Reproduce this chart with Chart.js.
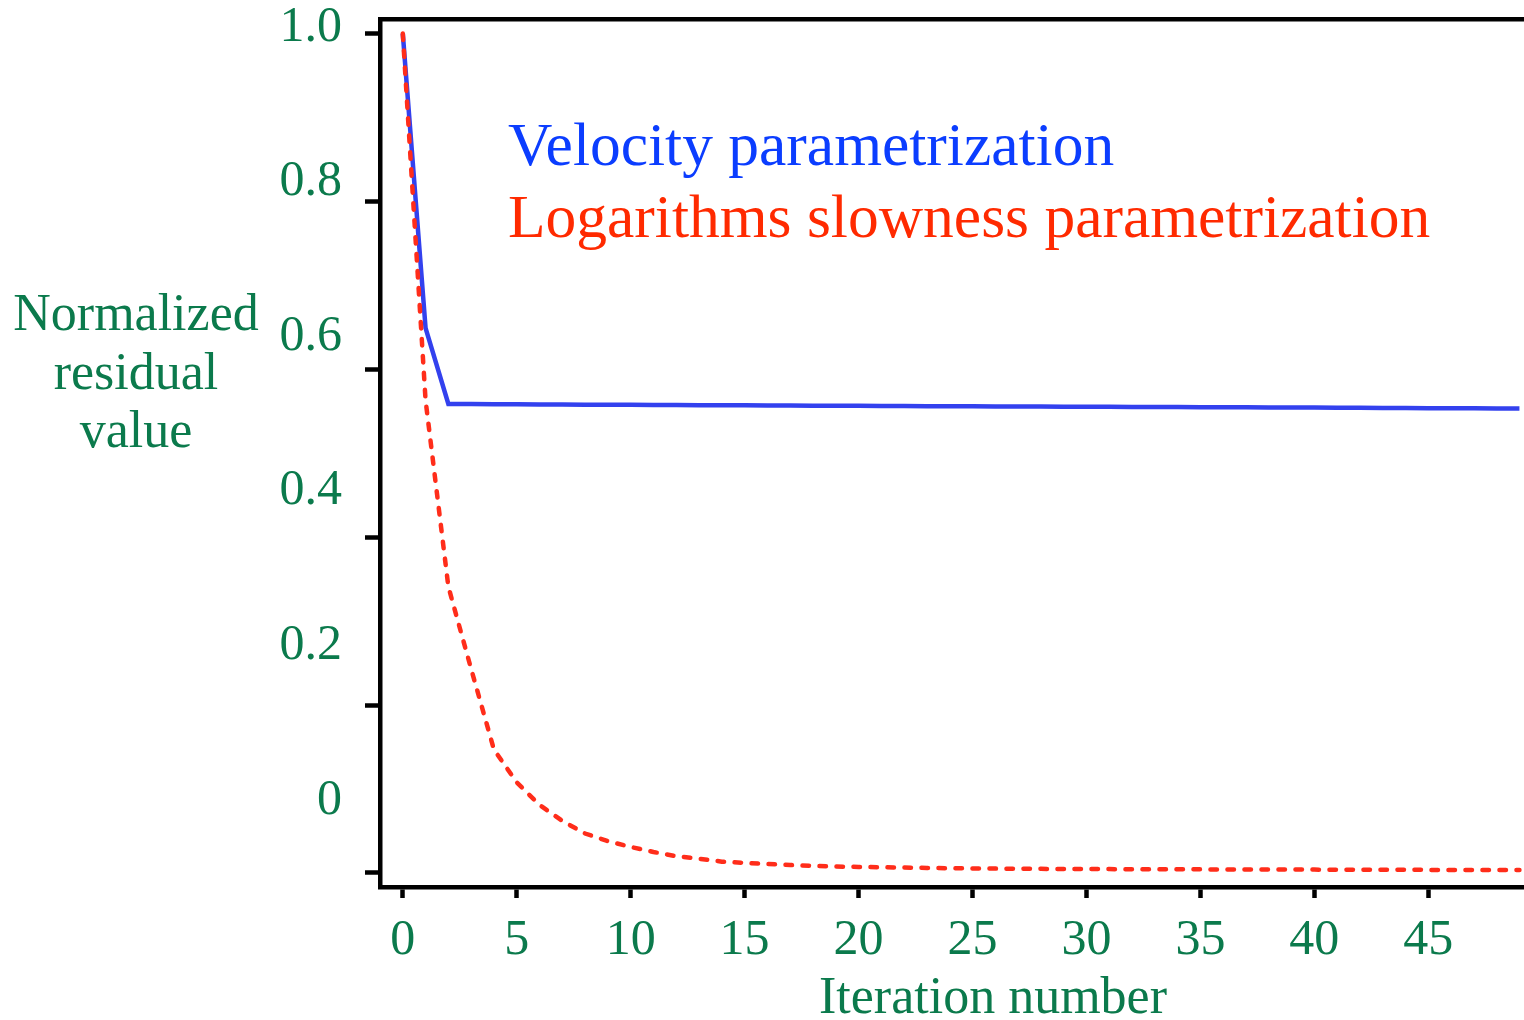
<!DOCTYPE html>
<html>
<head>
<meta charset="utf-8">
<title>Normalized residual value</title>
<script src="https://cdn.jsdelivr.net/npm/chart.js@4.4.0/dist/chart.umd.min.js"></script>
<style>
  html, body { margin: 0; padding: 0; background: #fff; }
  #wrap { width: 1524px; height: 1020px; position: relative; }
</style>
</head>
<body>
<div id="wrap"><canvas id="residuos"></canvas></div>
<script>
// datos de la curva de convergencia
const iteraciones = [
  0, 1, 2, 3, 4, 5, 6, 7, 8, 9,
  10, 11, 12, 13, 14, 15, 16, 17, 18, 19,
  20, 21, 22, 23, 24, 25, 26, 27, 28, 29,
  30, 31, 32, 33, 34, 35, 36, 37, 38, 39,
  40, 41, 42, 43, 44, 45, 46, 47, 48, 49
];
const velocidad = [
  1.0, 0.649, 0.5587, 0.5586, 0.5584, 0.5583, 0.5582, 0.558, 0.5579, 0.5578,
  0.5577, 0.5575, 0.5574, 0.5573, 0.5572, 0.5571, 0.557, 0.5568, 0.5567, 0.5566,
  0.5565, 0.5564, 0.5563, 0.5561, 0.556, 0.5559, 0.5558, 0.5557, 0.5556, 0.5555,
  0.5554, 0.5553, 0.5552, 0.5551, 0.555, 0.5549, 0.5548, 0.5547, 0.5546, 0.5545,
  0.5544, 0.5543, 0.5541, 0.554, 0.5539, 0.5537, 0.5536, 0.5535, 0.5534, 0.5533
];
const lentitudLog = [
  1.0, 0.563, 0.341, 0.243, 0.147, 0.108, 0.081, 0.062, 0.047, 0.038,
  0.031, 0.025, 0.02, 0.017, 0.0135, 0.012, 0.0107, 0.0095, 0.0085, 0.0077,
  0.0072, 0.0068, 0.0064, 0.006, 0.0057, 0.0054, 0.0052, 0.005, 0.0049, 0.0048,
  0.0047, 0.0046, 0.0045, 0.0044, 0.0043, 0.0043, 0.0042, 0.0041, 0.0041, 0.004,
  0.004, 0.0039, 0.0039, 0.0038, 0.0038, 0.0037, 0.0037, 0.0037, 0.0036, 0.0036
];
const ticksX = [0, 5, 10, 15, 20, 25, 30, 35, 40, 45];
const ticksY = [0, 0.2, 0.4, 0.6, 0.8, 1.0];
const etiquetasY = ["0", "0.2", "0.4", "0.6", "0.8", "1.0"];
const nombres = ["Velocity parametrization", "Logarithms slowness parametrization"];
const tituloY = ["Normalized", "residual", "value"];
const tituloX = "Iteration number";

const verde = "#0b7a4c";
const coloresLinea = ["#3341ee", "#ff2d1a"];
const coloresTexto = ["#0b3dff", "#ff2a00"];

Chart.defaults.font.family = "'Liberation Serif', 'Times New Roman', serif";
Chart.defaults.color = verde;

// textos sueltos: titulos de los ejes y leyenda dentro del grafico
const textosExtra = {
  id: "textosExtra",
  afterDraw(chart) {
    const ctx = chart.ctx;
    const area = chart.chartArea;
    ctx.save();
    ctx.fillStyle = verde;
    ctx.textAlign = "center";
    ctx.textBaseline = "alphabetic";
    ctx.font = "52px 'Liberation Serif'";
    tituloY.forEach((linea, i) => {
      ctx.fillText(linea, 136, 330 + i * 58.5);
    });
    ctx.fillText(tituloX, 993, 1013);
    ctx.textAlign = "left";
    ctx.font = "61.5px 'Liberation Serif'";
    chart.data.datasets.forEach((ds, i) => {
      ctx.fillStyle = coloresTexto[i];
      ctx.fillText(ds.label, area.left + 128, area.top + 146 + i * 72);
    });
    ctx.restore();
  }
};

const fijarTicks = (valores) => (scale) => {
  scale.ticks = valores.map((v) => ({ value: v }));
};

// sin relleno extra alrededor del area por las etiquetas
const sinRelleno = (alto, ancho) => (s) => {
  if (alto !== null) s.height = alto;
  if (ancho !== null) s.width = ancho;
  s.paddingTop = 0;
  s.paddingBottom = 0;
  s.paddingLeft = 0;
  s.paddingRight = 0;
};

const config = {
  type: "line",
  data: {
    datasets: [
      {
        label: nombres[0],
        data: iteraciones.map((it, i) => ({ x: it, y: velocidad[i] })),
        borderColor: coloresLinea[0],
        borderWidth: 4.5,
        pointRadius: 0,
        tension: 0,
        order: 1
      },
      {
        label: nombres[1],
        data: iteraciones.map((it, i) => ({ x: it, y: lentitudLog[i] })),
        borderColor: coloresLinea[1],
        borderWidth: 4.5,
        borderDash: [6.5, 10.5],
        borderCapStyle: "round",
        pointRadius: 0,
        tension: 0,
        order: 0
      }
    ]
  },
  options: {
    responsive: true,
    maintainAspectRatio: false,
    animation: false,
    layout: { padding: { top: 19, right: 0, bottom: 0, left: 0 } },
    plugins: {
      legend: { display: false },
      tooltip: { enabled: false }
    },
    scales: {
      x: {
        type: "linear",
        position: "bottom",
        min: -1,
        max: 49.2,
        afterBuildTicks: fijarTicks(ticksX),
        afterFit: sinRelleno(133, null),
        grid: { display: true, drawOnChartArea: false, drawTicks: true, tickLength: 11, tickWidth: 4.5, tickColor: "#000" },
        border: { display: true, color: "#000", width: 4.5 },
        ticks: { color: verde, font: { size: 50 }, padding: 13, autoSkip: false, maxRotation: 0 }
      },
      xTop: {
        type: "linear",
        position: "top",
        min: 0,
        max: 1,
        afterFit: sinRelleno(0, null),
        grid: { display: false },
        border: { display: true, color: "#000", width: 4.5 },
        ticks: { display: false }
      },
      y: {
        type: "linear",
        position: "left",
        weight: 0,
        min: -0.0167,
        max: 1.0173,
        afterBuildTicks: fijarTicks(ticksY),
        afterFit: sinRelleno(null, 15),
        grid: { display: true, drawOnChartArea: false, drawTicks: true, tickLength: 15, tickWidth: 4.5, tickColor: "#000" },
        border: { display: true, color: "#000", width: 4.5 },
        ticks: { display: false }
      },
      yLabels: {
        type: "linear",
        position: "left",
        weight: 10,
        min: -0.1119,
        max: 1.011,
        afterBuildTicks: fijarTicks(ticksY),
        afterFit: sinRelleno(null, 365),
        grid: { display: false },
        border: { display: false },
        ticks: {
          color: verde,
          font: { size: 50 },
          padding: 15,
          autoSkip: false,
          callback: (valor, i) => etiquetasY[i]
        }
      }
    }
  },
  plugins: [textosExtra]
};

new Chart(document.getElementById("residuos"), config);
</script>
</body>
</html>
